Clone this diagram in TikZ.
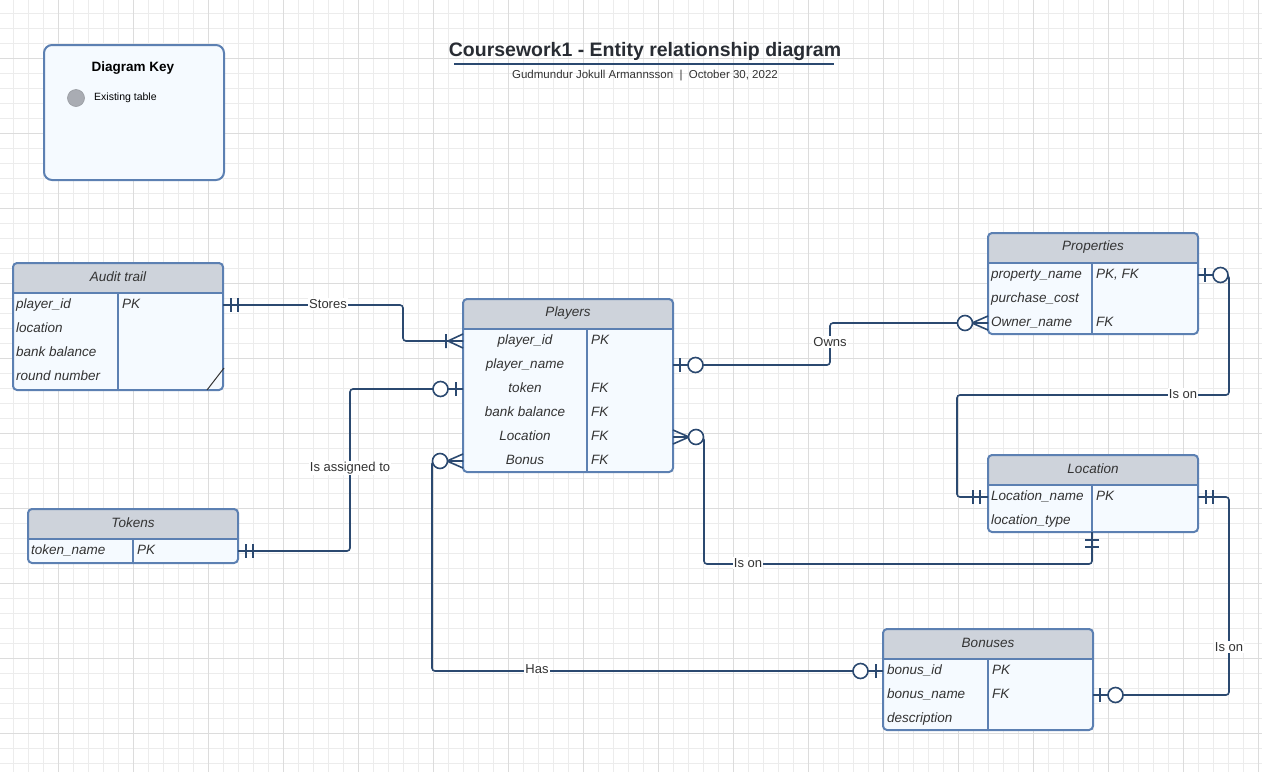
\documentclass[tikz,border=0pt]{standalone}
\usepackage{fontspec}
\setmainfont{Liberation Sans}
\usetikzlibrary{positioning, calc}

\definecolor{gridminor}{RGB}{236,236,236}
\definecolor{gridmajor}{RGB}{220,220,220}
\definecolor{tblborder}{RGB}{92,128,178}
\definecolor{headfill}{RGB}{206,211,219}
\definecolor{bodyfill}{RGB}{245,250,255}
\definecolor{relline}{RGB}{43,73,112}
\definecolor{txt}{RGB}{51,51,51}
\definecolor{titletxt}{RGB}{40,44,51}
\definecolor{keydot}{RGB}{169,172,179}

\tikzset{
  tblbox/.style={rectangle, fill=bodyfill, minimum width=210pt, inner sep=0pt, outer sep=0pt},
  tbledge/.style={draw=tblborder, line width=2pt},
  tbltitle/.style={font=\fontsize{13.5}{15}\selectfont\itshape, text=txt, inner sep=0pt},
  field/.style={font=\fontsize{13.5}{15}\selectfont\itshape, text=txt, inner sep=0pt, text height=9pt, text depth=3pt},
  rel/.style={draw=relline, line width=1.6pt, rounded corners=3pt},
  relmark/.style={draw=relline, line width=1.6pt},
  lbl/.style={fill=white, font=\fontsize{13}{15}\selectfont, text=txt, inner sep=1pt},
  mandone/.pic={\draw[relmark] (8,-7) -- (8,7) (15,-7) -- (15,7);},
  zeroone/.pic={\draw[relmark] (7,-7) -- (7,7);
    \draw[relmark, fill=white] (22.5,0) circle (7.5pt);},
  zeromany/.pic={\draw[relmark] (0,-7) -- (16,0) -- (0,7) (0,0) -- (16,0);
    \draw[relmark, fill=white] (23,0) circle (7.5pt);},
  onemany/.pic={\draw[relmark] (0,-7) -- (15,0) -- (0,7) (0,0) -- (15,0) (17,-7) -- (17,7);},
}

% name, x, y, height, divider x, title
\newcommand{\ertable}[6]{%
  \node[tblbox, minimum height=#4pt, anchor=north west] (#1) at (#2,#3) {};
  \begin{scope}
    \clip[rounded corners=4pt] (#1.north west) rectangle (#1.south east);
    \fill[headfill] (#1.north west) rectangle ([yshift=-30pt]#1.north east);
  \end{scope}
  \node[tbltitle] (#1-title) at ([yshift=-14pt]#1.north) {#6};
  \draw[tbledge] ([yshift=-30pt]#1.north west) -- ([yshift=-30pt]#1.north east);
  \draw[tbledge] (#5,{#3+30}) -- (#5,{#3+#4});
  \draw[tbledge, rounded corners=4pt] (#1.north west) rectangle (#1.south east);
}

\begin{document}
\begin{tikzpicture}[x=1pt, y=-1pt]
\useasboundingbox (0,0) rectangle (1262,772);

% grid
\foreach \x in {13,28,...,1261} \draw[gridminor, line width=1pt] (\x,0) -- (\x,772);
\foreach \y in {13,28,...,771} \draw[gridminor, line width=1pt] (0,\y) -- (1262,\y);
\foreach \x in {58,133,...,1261} \draw[gridmajor, line width=1pt] (\x,0) -- (\x,772);
\foreach \y in {58,133,...,771} \draw[gridmajor, line width=1pt] (0,\y) -- (1262,\y);

% key
\node[draw=tblborder, line width=2pt, fill=bodyfill, rounded corners=8pt, minimum width=180pt, minimum height=135pt, anchor=north west] (key) at (43,44) {};
\node[font=\fontsize{13.5}{16}\selectfont\bfseries, text=black] (key-title) at (133,68) {Diagram Key};
\node[circle, fill=keydot, draw=keydot!90!black, line width=0.6pt, minimum size=17pt, inner sep=0pt] (key-dot) at (76,98) {};
\node[anchor=west, font=\fontsize{10.5}{12}\selectfont, text=black, inner sep=0pt] (key-text) at (94,98) {Existing table};

% title
\node[font=\fontsize{19.5}{22}\selectfont\bfseries, text=titletxt] (title) at (645,51) {Coursework1 - Entity relationship diagram};
\draw[draw=relline, line width=1.5pt] (454,64) -- (834,64);
\node[font=\fontsize{11.5}{13}\selectfont, text=txt] (subtitle) at (645,76) {Gudmundur Jokull Armannsson \ \textbar\ \ October 30, 2022};

% tables
\ertable{audit}{13}{263}{127}{118}{Audit trail}
\ertable{players}{463}{299}{173}{587}{Players}
\ertable{props}{988}{233}{101}{1092}{Properties}
\ertable{loc}{988}{455}{77}{1092}{Location}
\ertable{bonus}{883}{629}{101}{988}{Bonuses}
\ertable{tokens}{28}{509}{54}{133}{Tokens}

\foreach \f/\k [count=\i] in {player\_id/PK, location/, bank balance/, round number/} {
  \node[field, anchor=west] (audit-\i) at (16,{305+24*(\i-1)}) {\f};
  \node[field, anchor=west] (audit-k\i) at (122,{305+24*(\i-1)}) {\k};
}
\foreach \f/\k [count=\i] in {player\_id/PK, player\_name/, token/FK, bank balance/FK, Location/FK, Bonus/FK} {
  \node[field] (pl-\i) at (525,{341+24*(\i-1)}) {\f};
  \node[field, anchor=west] (pl-k\i) at (591,{341+24*(\i-1)}) {\k};
}
\foreach \f/\k [count=\i] in {property\_name/{PK, FK}, purchase\_cost/, Owner\_name/FK} {
  \node[field, anchor=west] (props-\i) at (991,{275+24*(\i-1)}) {\f};
  \node[field, anchor=west] (props-k\i) at (1096,{275+24*(\i-1)}) {\k};
}
\foreach \f/\k [count=\i] in {Location\_name/PK, location\_type/} {
  \node[field, anchor=west] (loc-\i) at (991,{497+24*(\i-1)}) {\f};
  \node[field, anchor=west] (loc-k\i) at (1096,{497+24*(\i-1)}) {\k};
}
\foreach \f/\k [count=\i] in {bonus\_id/PK, bonus\_name/FK, description/} {
  \node[field, anchor=west] (bonus-\i) at (887,{671+24*(\i-1)}) {\f};
  \node[field, anchor=west] (bonus-k\i) at (992,{671+24*(\i-1)}) {\k};
}
\node[field, anchor=west] (tokens-1) at (31,551) {token\_name};
\node[field, anchor=west] (tokens-k1) at (137,551) {PK};

\draw[black!80, line width=1pt] (207,390) -- (224,368);

% relationships
\coordinate (loc-b) at ([xshift=104pt]loc.south west);
\draw[rel] (audit-1 -| audit.east) -| ($(pl-1 -| players.west)+(-60,0)$) -- (pl-1 -| players.west);
\draw[rel] (tokens-1 -| tokens.east) -| ($(pl-3 -| players.west)+(-113,0)$) -- (pl-3 -| players.west);
\draw[rel] (pl-6 -| players.west) -| ($(bonus-1 -| players.west)+(-31,0)$) -- (bonus-1 -| bonus.west);
\draw[rel] (pl-2 -| players.east) -| ($(props-3 -| props.west)+(-158,0)$) -- (props-3 -| props.west);
\draw[rel] (pl-5 -| players.east) -- ++(31,0) |- ($(loc-b)+(0,32)$) -- (loc-b);
\draw[rel] (props-1 -| props.east) -- ++(31,0) -- ++(0,120) -| ($(loc-1 -| loc.west)+(-31,0)$) -- (loc-1 -| loc.west);
\draw[rel] (loc-1 -| loc.east) -- ++(31,0) |- (bonus-2 -| bonus.east);

% ends
\pic at (audit-1 -| audit.east) {mandone};
\pic[rotate=180] at (pl-1 -| players.west) {onemany};
\pic at (tokens-1 -| tokens.east) {mandone};
\pic[rotate=180] at (pl-3 -| players.west) {zeroone};
\pic[rotate=180] at (pl-6 -| players.west) {zeromany};
\pic[rotate=180] at (bonus-1 -| bonus.west) {zeroone};
\pic at (pl-2 -| players.east) {zeroone};
\pic[rotate=180] at (props-3 -| props.west) {zeromany};
\pic at (pl-5 -| players.east) {zeromany};
\pic[rotate=-90] at (loc-b) {mandone};
\pic at (props-1 -| props.east) {zeroone};
\pic[rotate=180] at (loc-1 -| loc.west) {mandone};
\pic at (loc-1 -| loc.east) {mandone};
\pic at (bonus-2 -| bonus.east) {zeroone};

% labels
\node[lbl] (lbl-stores) at (328,304) {Stores};
\node[lbl] (lbl-assigned) at (350,468) {Is assigned to};
\node[lbl] (lbl-has) at (537,669) {Has};
\node[lbl] (lbl-owns) at (830,342) {Owns};
\node[lbl] (lbl-ison1) at (748,563) {Is on};
\node[lbl] (lbl-ison2) at (1183,394) {Is on};
\node[lbl] (lbl-ison3) at (1229,647) {Is on};
\end{tikzpicture}
\end{document}
